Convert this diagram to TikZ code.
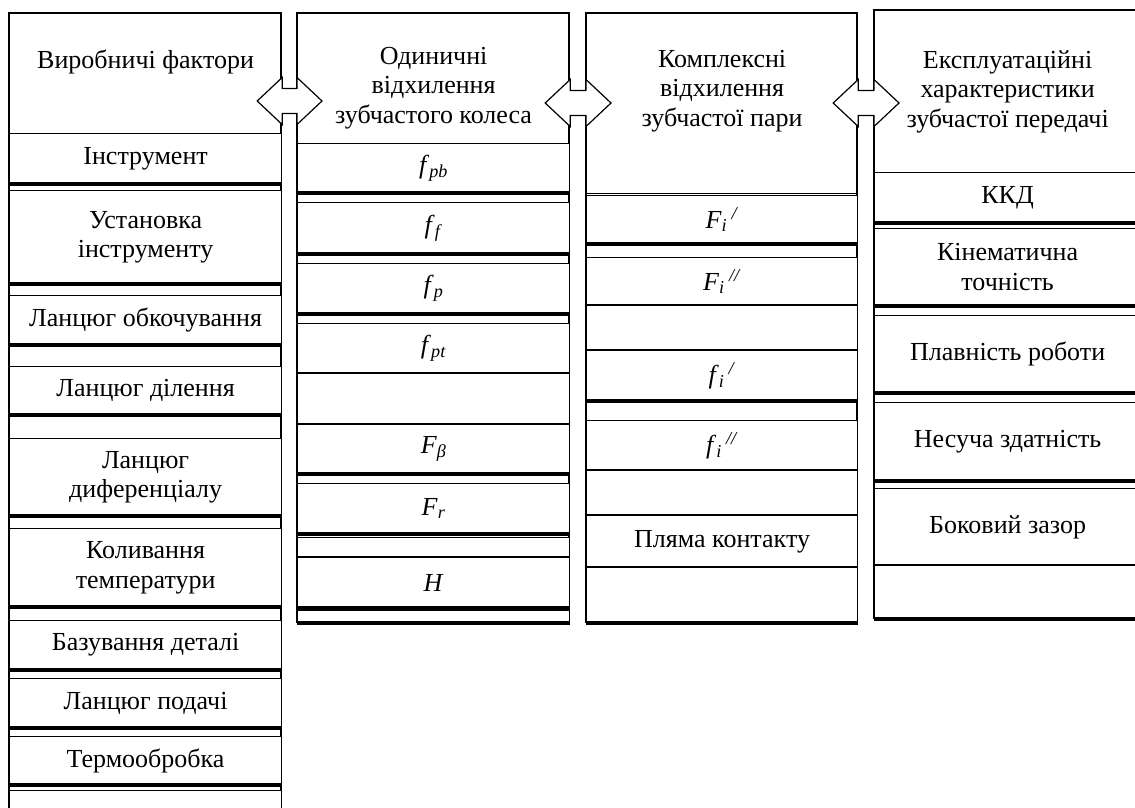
\documentclass[tikz,border=0pt]{standalone}
\usepackage{fontspec}
\setmainfont{Liberation Serif}
\newcommand{\cellfont}{\fontsize{26}{29.5}\selectfont}
\newcommand{\sym}[1]{\textit{#1}}
% double arrow between two header nodes: #1 left node, #2 right node, #3 centre y
\newcommand{\biarrow}[3]{%
  \coordinate (tipL) at ([xshift=-25pt]#1.east |- 0,#3);
  \coordinate (tipR) at ([xshift=25pt]#2.west |- 0,#3);
  \draw[arrowbox] (tipL) -- ++(25,-23.5) -- ++(0,11) -- ([shift={(-25,-12.5)}]tipR)
    -- ++(0,-11) -- (tipR) -- ++(-25,23.5) -- ++(0,-11) -- ([shift={(25,12.5)}]tipL)
    -- ++(0,11) -- cycle;}

\begin{document}
\begin{tikzpicture}[x=1pt, y=-1pt,
        outline/.style={
            draw,
            line width=1.2pt
        },
        header/.style={
            rectangle,
            draw,
            line width=1.2pt,
            anchor=north west,
            inner sep=0pt
        },
        title/.style={
            anchor=north,
            align=center,
            inner sep=0pt,
            font=\cellfont
        },
        cell/.style={
            rectangle,
            draw,
            fill=white,
            line width=1.2pt,
            anchor=north west,
            inner sep=0pt,
            align=center,
            font=\cellfont,
            append after command={\pgfextra{\let\cellnode=\tikzlastnode}
                (\cellnode.south west) edge[line width=3.5pt] (\cellnode.south east)}
        },
        cA/.style={cell, minimum width=272pt},
        cB/.style={cell, minimum width=272pt},
        cC/.style={cell, minimum width=271pt},
        cD/.style={cell, minimum width=266pt},
        arrowbox/.style={
            draw,
            fill=white,
            line width=1.2pt,
            line join=miter
        }
    ]
        \clip (0,0) rectangle (1135,807);
        \fill[white] (0,0) rectangle (1135,807);

        % Column outlines
        \draw[outline] (9,13) rectangle (281,840);
        \draw[outline] (297,13) rectangle (569,622);
        \draw[outline] (586,13) rectangle (857,622);
        \draw[outline] (874,10) rectangle (1140,618);

        % Column 1 (production factors)
        \node[header, minimum width=272pt, minimum height=120pt] (prod) at (9,13) {};
        \node[title] at ([yshift=-37pt]prod.north) {Виробничі фактори};
        \node[cA, minimum height=50pt] (tool) at (9,133) {Інструмент};
        \node[cA, minimum height=93pt] (setup) at (9,190) {Установка\\інструменту};
        \node[cA, minimum height=49pt] (roll) at (9,295) {Ланцюг обкочування};
        \node[cA, minimum height=48pt] (divide) at (9,366) {Ланцюг ділення};
        \node[cA, minimum height=77pt] (diff) at (9,438) {Ланцюг\\диференціалу};
        \node[cA, minimum height=78pt] (temp) at (9,528) {Коливання\\температури};
        \node[cA, minimum height=49pt] (base) at (9,620) {Базування деталі};
        \node[cA, minimum height=49pt] (feed) at (9,678) {Ланцюг подачі};
        \node[cA, minimum height=48pt] (heat) at (9,736) {Термообробка};
        \node[cA, minimum height=40pt] (restA) at (9,790) {};

        % Column 2 (single deviations)
        \node[header, minimum width=272pt, minimum height=130pt] (single) at (297,13) {};
        \node[title] at ([yshift=-34pt]single.north) {Одиничні\\відхилення\\зубчастого колеса};
        \node[cB, minimum height=49pt] (fpb) at (297,143) {\sym{f}\textsubscript{\sym{pb}}};
        \node[cB, minimum height=51pt] (ff) at (297,202) {\sym{f}\textsubscript{\sym{f}}};
        \node[cB, minimum height=50pt] (fp) at (297,263) {\sym{f}\textsubscript{\sym{p}}};
        \node[cB, minimum height=50pt] (fpt) at (297,323) {\sym{f}\textsubscript{\sym{pt}}};
        \node[cB, minimum height=51pt] (emptyB) at (297,373) {};
        \node[cB, minimum height=49pt] (Fbeta) at (297,424) {\sym{F}\textsubscript{\sym{β}}};
        \node[cB, minimum height=50pt] (Fr) at (297,483) {\sym{F}\textsubscript{\sym{r}}};
        \node[cB, minimum height=20pt] (gapB) at (297,537) {};
        \node[cB, minimum height=50pt] (H) at (297,557) {\sym{H}};
        \node[cB, minimum height=12pt] (restB) at (297,610) {};

        % Column 3 (complex deviations)
        \node[header, minimum width=271pt, minimum height=180pt] (complex) at (586,13) {};
        \node[title] at ([yshift=-37pt]complex.north) {Комплексні\\відхилення\\зубчастої пари};
        \node[cC, minimum height=48pt] (Fi1) at (586,195) {\sym{F}\textsubscript{\sym{i}}\,\textsuperscript{\sym{/}}};
        \node[cC, minimum height=48pt] (Fi2) at (586,257) {\sym{F}\textsubscript{\sym{i}}\,\textsuperscript{\sym{//}}};
        \node[cC, minimum height=45pt] (emptyC) at (586,305) {};
        \node[cC, minimum height=50pt] (fi1) at (586,350) {\sym{f}\textsubscript{\sym{i}}\,\textsuperscript{\sym{/}}};
        \node[cC, minimum height=50pt] (fi2) at (586,420) {\sym{f}\textsubscript{\sym{i}}\,\textsuperscript{\sym{//}}};
        \node[cC, minimum height=45pt] (gapC) at (586,470) {};
        \node[cC, minimum height=52pt] (spot) at (586,515) {Пляма контакту};
        \node[cC, minimum height=55pt] (restC) at (586,567) {};

        % Column 4 (performance of the gear drive)
        \node[header, minimum width=266pt, minimum height=162pt] (perf) at (874,10) {};
        \node[title] at ([yshift=-40pt]perf.north) {Експлуатаційні\\характеристики\\зубчастої передачі};
        \node[cD, minimum height=50pt] (eff) at (874,172) {ККД};
        \node[cD, minimum height=77pt] (kin) at (874,228) {Кінематична\\точність};
        \node[cD, minimum height=77pt] (smooth) at (874,315) {Плавність роботи};
        \node[cD, minimum height=78pt] (load) at (874,402) {Несуча здатність};
        \node[cD, minimum height=77pt] (backlash) at (874,488) {Боковий зазор};
        \node[cD, minimum height=53pt] (restD) at (874,565) {};

        % Double arrows between columns
        \biarrow{prod}{single}{101}
        \biarrow{single}{complex}{103}
        \biarrow{complex}{perf}{103}
    \end{tikzpicture}
\end{document}
